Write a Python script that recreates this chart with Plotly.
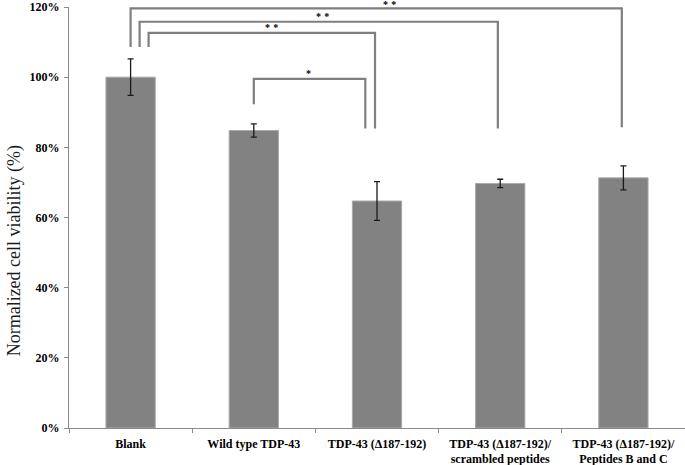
import plotly.graph_objects as go

categories = [
    "Blank",
    "Wild type TDP-43",
    "TDP-43 (Δ187-192)",
    "TDP-43 (Δ187-192)/<br>scrambled peptides",
    "TDP-43 (Δ187-192)/<br>Peptides B and C",
]
viability = [100.0, 84.8, 64.7, 69.7, 71.3]
sd = [5.2, 1.9, 5.5, 1.2, 3.4]

y_ticks = [0, 20, 40, 60, 80, 100, 120]

# significance brackets: (from, to, level %, left leg bottom %, right leg bottom %, label)
bracket_from = [0, 0, 0, 1]
bracket_to = [4, 3, 2, 2]
bracket_level = [119.6, 115.8, 112.6, 99.5]
bracket_left_bottom = [108.6, 108.6, 108.6, 92.3]
bracket_right_bottom = [85.7, 85.4, 85.4, 85.4]
bracket_label = ["*\u2004*", "*\u2004*", "*\u2004*", "*"]

# drawing offsets (category units / pixels)
left_off = [0.0, 0.073, 0.146, 0.0]
right_off = [-0.013, -0.019, -0.016, -0.095]
label_x = [2.10, 1.557, 1.14, 1.446]
label_shift = [-4, -2, -2, -2]

fig = go.Figure()
fig.add_trace(go.Bar(
    x=categories,
    y=viability,
    width=0.4,
    marker=dict(color="#828282", line=dict(color="#a8a8a8", width=1)),
    error_y=dict(type="data", array=sd, visible=True, color="#1a1a1a", thickness=1.3, width=3),
    showlegend=False,
))

for i in range(len(bracket_from)):
    xl = bracket_from[i] + left_off[i]
    xr = bracket_to[i] + right_off[i]
    lvl = bracket_level[i]
    fig.add_shape(type="path",
                  path=f"M {xl} {bracket_left_bottom[i]} L {xl} {lvl} L {xr} {lvl} L {xr} {bracket_right_bottom[i]}",
                  xref="x", yref="y", line=dict(color="#7f7f7f", width=2.2))
    fig.add_annotation(x=label_x[i], y=lvl, xref="x", yref="y", text=bracket_label[i],
                       showarrow=False, yanchor="bottom", xanchor="center", yshift=label_shift[i],
                       font=dict(family="Liberation Serif", size=10, color="black", weight="bold"))

fig.add_annotation(x=-0.089, y=0.42, xref="paper", yref="paper",
                   text="Normalized cell viability (%)", textangle=-90, showarrow=False,
                   xanchor="center", yanchor="middle",
                   font=dict(family="Liberation Serif", size=18, color="#1a1a1a"))

fig.update_layout(
    template="none",
    width=685, height=465,
    margin=dict(l=69, r=0, t=7, b=37, pad=0),
    paper_bgcolor="white", plot_bgcolor="white",
    xaxis=dict(
        type="category",
        range=[-0.5, len(categories) - 0.5],
        automargin=False,
        showline=True, linecolor="#8a8a8a", linewidth=1.3,
        showgrid=False, zeroline=False,
        ticks="outside", tickson="boundaries", ticklen=4, tickcolor="#8a8a8a", tickwidth=1.3,
        ticklabelstandoff=4,
        tickfont=dict(family="Liberation Serif", size=12, color="black", weight="bold"),
    ),
    yaxis=dict(
        range=[0, 120], tickvals=y_ticks, ticktext=[f"{v}%" for v in y_ticks],
        automargin=False,
        showline=True, linecolor="#8a8a8a", linewidth=1.3,
        showgrid=False, zeroline=False,
        ticks="outside", ticklen=4, tickcolor="#8a8a8a", tickwidth=1.3,
        ticklabelstandoff=2,
        tickfont=dict(family="Liberation Serif", size=12, color="black", weight="bold"),
    ),
)

fig.write_html(
    "out.html",
    config={"displayModeBar": False},
    post_script="document.body.style.margin='0';document.body.style.overflow='hidden';",
)
